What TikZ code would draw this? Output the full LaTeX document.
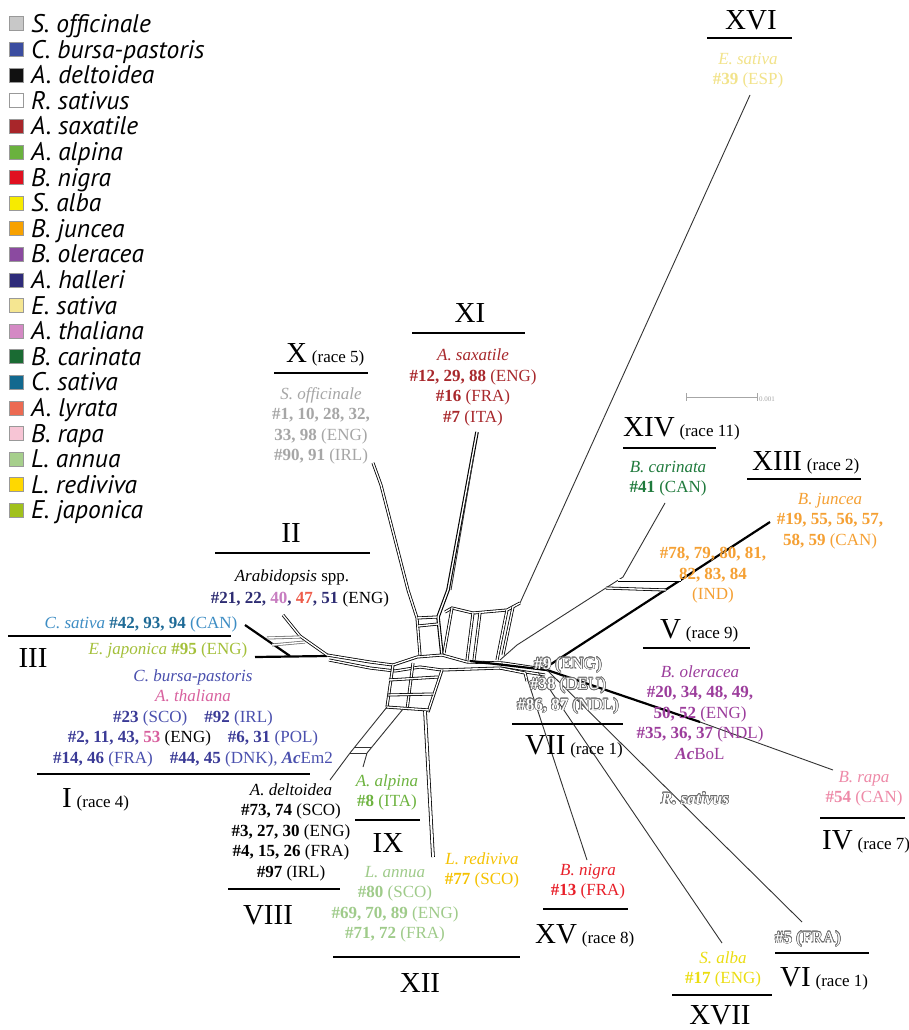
\documentclass[tikz,border=0pt]{standalone}
\usepackage{fontspec}
\setmainfont{Liberation Serif}
\newfontfamily\legfont{PT Sans}
\usepackage[copies]{contour}
\contourlength{0.55pt}
\contournumber{16}
% legend fills
\definecolor{gOff}{HTML}{C8C8C8}
\definecolor{gBur}{HTML}{3B4DA0}
\definecolor{gDel}{HTML}{111111}
\definecolor{gSax}{HTML}{A8262A}
\definecolor{gAlp}{HTML}{6AB23E}
\definecolor{gNig}{HTML}{E01020}
\definecolor{gAlb}{HTML}{F7EB00}
\definecolor{gJun}{HTML}{F7A100}
\definecolor{gOle}{HTML}{8B4AA0}
\definecolor{gHal}{HTML}{2E2B7A}
\definecolor{gEsa}{HTML}{F5E691}
\definecolor{gTha}{HTML}{D489C4}
\definecolor{gCar}{HTML}{1A6B33}
\definecolor{gCsa}{HTML}{12698F}
\definecolor{gLyr}{HTML}{EC6A52}
\definecolor{gRap}{HTML}{F7C5D5}
\definecolor{gAnn}{HTML}{A6CF8C}
\definecolor{gRed}{HTML}{FFD800}
\definecolor{gEja}{HTML}{A1C11C}
% label text colours
\definecolor{cOff}{HTML}{A6A6A6}
\definecolor{cSax}{HTML}{A8282C}
\definecolor{cCar}{HTML}{1F7A3C}
\definecolor{cJun}{HTML}{F5A033}
\definecolor{cOle}{HTML}{9C3D9C}
\definecolor{cRap}{HTML}{EE8AA8}
\definecolor{cNig}{HTML}{E8202A}
\definecolor{cAlb}{HTML}{EBDD10}
\definecolor{cEsa}{HTML}{F2E38A}
\definecolor{cRed}{HTML}{F5C200}
\definecolor{cAnn}{HTML}{9FCB8A}
\definecolor{cAlp}{HTML}{6DB33F}
\definecolor{cCsaI}{HTML}{3D8DC4}
\definecolor{cCsaN}{HTML}{1E6A96}
\definecolor{cEja}{HTML}{A4C03A}
\definecolor{cBur}{HTML}{4A50AE}
\definecolor{cBurN}{HTML}{3A3A96}
\definecolor{cTha}{HTML}{D8609E}
\definecolor{cNavy}{HTML}{2D2C72}
\definecolor{cLil}{HTML}{C77CC0}
\definecolor{cLyr}{HTML}{EE5C4A}
\definecolor{olgray}{HTML}{6E6E6E}
\newcommand\lsize{\fontsize{17}{20.5}\selectfont}
\newcommand\olt[1]{\textcolor{white}{\contour{olgray}{#1}}}
\tikzset{
  lab/.style={font=\lsize, align=center, inner sep=0pt},
  rom/.style={font=\fontsize{29}{30}\selectfont, inner sep=0pt},
  ul/.style={line width=1.6pt, black},
  net/.style={draw=black, line width=0.8pt, double=white, double distance=1.4pt},
  thk/.style={line width=2.2pt, black},
  thn/.style={line width=0.9pt, black!80},
  sq/.style={draw=gray!80, line width=1pt, minimum size=14pt, inner sep=0pt},
  leg/.style={font=\legfont\itshape\fontsize{25.5}{26}\selectfont, inner sep=0pt}
}
\begin{document}
\begin{tikzpicture}[x=1pt,y=-1pt]
\fill[white] (0,0) rectangle (909,1030);
\useasboundingbox (0,0) rectangle (909,1030);

% ---------- legend ----------
\foreach \n/\c [count=\i from 0] in {S. officinale/gOff, C. bursa-pastoris/gBur, A. deltoidea/gDel, R. sativus/white, A. saxatile/gSax, A. alpina/gAlp, B. nigra/gNig, S. alba/gAlb, B. juncea/gJun, B. oleracea/gOle, A. halleri/gHal, E. sativa/gEsa, A. thaliana/gTha, B. carinata/gCar, C. sativa/gCsa, A. lyrata/gLyr, B. rapa/gRap, L. annua/gAnn, L. rediviva/gRed, E. japonica/gEja}{
  \node[sq, fill=\c] (sq\i) at (16,{24+25.6*\i}) {};
  \node[leg, anchor=base west] (lg\i) at (31,{32.5+25.6*\i}) {\n};
}

% ---------- tip coordinates ----------
\coordinate (hubL) at (393,665);
\coordinate (tCsa) at (245,625);
\coordinate (tEja) at (255,657);
\coordinate (tAra) at (283,615);
\coordinate (tOff) at (373,463);
\coordinate (tSax) at (477,432);
\coordinate (tEsa) at (750,95);
\coordinate (tCar) at (665,503);
\coordinate (tJun) at (770,522);
\coordinate (tRap) at (833,770);
\coordinate (tNig) at (587,860);
\coordinate (tAlb) at (722,943);
\coordinate (t5) at (802,922);
\coordinate (tDel) at (330,780);
\coordinate (tAlp) at (363,767);
\coordinate (tRed) at (433,857);

% ---------- network ----------
% left arm
\draw[net] (hubL) -- (370,662) -- (327,655);
\draw[net] (395,671) -- (370,668) -- (329,660);
\draw[thk] (tCsa) -- (290,656);
\draw[thk] (tEja) -- (327,656);
\draw[net] (tAra) -- (300,636) -- (327,655);
\draw[net, draw=black!55] (267,638) -- (300,637);
\draw[net, draw=black!55] (272,645) -- (305,642);
% upper branches
\draw[net] (420,655) -- (417,618) -- (408,590) -- (381,485) -- (tOff);
\draw[net, line width=1.1pt] (442,655) -- (438,617) -- (448,590) -- (tSax);
\draw[thn] (451,590) -- (474,455);
% central boxes
\draw[net] (417,618) -- (437,617);
\draw[net] (418,626) -- (438,624);
\draw[net] (445,612) -- (452,608) -- (473,613) -- (507,610) -- (520,603);
\draw[net] (452,608) -- (444,653);
\draw[net] (473,613) -- (467,660);
\draw[net] (480,613) -- (474,660);
\draw[net] (507,610) -- (497,660);
\draw[net] (513,607) -- (503,655);
\draw[net] (hubL) -- (417,657) -- (442,655) -- (467,662) -- (503,663) -- (550,670);
\draw[net] (395,671) -- (420,667) -- (442,670) -- (500,668) -- (545,675);
\draw[net] (500,668) -- (525,673) -- (527,681);
% lower-left boxes
\draw[net] (hubL) -- (387,707);
\draw[net] (413,663) -- (407,710);
\draw[net] (442,670) -- (428,712);
\draw[net] (389,680) -- (438,677);
\draw[net] (388,695) -- (433,694);
\draw[net] (386,707) -- (429,710);
\draw[thn] (387,707) -- (350,753) -- (tDel);
\draw[thn] (403,709) -- (367,753) -- (tAlp);
\draw[thn] (350,753) -- (367,753);
\draw[thn] (354,747) -- (371,747);
\draw[net, double distance=2pt] (425,711) -- (tRed);
% right branches
\draw[thn] (520,603) -- (tEsa);
\draw[thn] (500,660) -- (517,645) -- (623,577) -- (tCar);
\draw[thk] (545,668) -- (tJun);
\draw[net] (618,580) -- (681,580);
\draw[net] (606,588) -- (666,590);
\draw[thk] (470,661) -- (547,670) -- (700,722);
\draw[thn] (700,722) -- (tRap);
\draw[thn] (527,678) -- (tNig);
\draw[thn] (538,672) -- (tAlb);
\draw[thn] (547,670) -- (t5);

% scale bar
\draw[gray!70, line width=1pt] (686,397) -- (757,397);
\draw[gray!70, line width=0.8pt] (686,393) -- (686,401);
\draw[gray!70, line width=0.8pt] (757,393) -- (757,401);
\node[inner sep=0pt, anchor=west, text=gray!70, font=\fontsize{7}{8}\selectfont] (sbar) at (759,399) {0.001};

% ---------- labels ----------
% XVI
\node[rom, anchor=base] (r16) at (751,29.5) {XVI};
\draw[ul] (707,38) -- (792,38);
\node[lab, anchor=north, text=cEsa] (l16) at (748,53) {\textit{E. sativa}\\\textbf{\#39} (ESP)};
% XI
\node[rom, anchor=base] (r11) at (470,322.5) {XI};
\draw[ul] (412,333) -- (525,333);
\node[lab, anchor=north, text=cSax] (l11) at (473,349) {\textit{A. saxatile}\\\textbf{\#12, 29, 88} (ENG)\\\textbf{\#16} (FRA)\\\textbf{\#7} (ITA)};
% X
\node[rom, anchor=base west] (r10) at (286,362.5) {X\,{\lsize(race 5)}};
\draw[ul] (274,373) -- (368,373);
\node[lab, anchor=north, text=cOff] (l10) at (321,387) {\textit{S. officinale}\\\textbf{\#1, 10, 28, 32,}\\\textbf{33, 98} (ENG)\\\textbf{\#90, 91} (IRL)};
% II
\node[rom, anchor=base] (r2) at (291,542.5) {II};
\draw[ul] (215,553) -- (370,553);
\node[lab, anchor=base] (l2a) at (292,581) {\textit{Arabidopsis} spp.};
\node[lab, anchor=base] (l2b) at (300,603) {\textbf{\textcolor{cNavy}{\#21, 22,} \textcolor{cLil}{40}\textcolor{cNavy}{,} \textcolor{cLyr}{47}\textcolor{cNavy}{, 51}} (ENG)};
% III
\node[lab, anchor=base] (l3a) at (141,628) {\textcolor{cCsaI}{\textit{C. sativa}} \textcolor{cCsaN}{\textbf{\#42, 93, 94}} \textcolor{cCsaI}{(CAN)}};
\draw[ul] (8,636) -- (231,636);
\node[rom, anchor=base] (r3) at (33,667.5) {III};
\node[lab, anchor=base, text=cEja] (l3b) at (168,654) {\textit{E. japonica} \textbf{\#95} (ENG)};
% I
\node[lab, anchor=north, text=cBur] (l1) at (193,669) {\textit{C. bursa-pastoris}\\\textcolor{cTha}{\textit{A. thaliana}}\\\textbf{\textcolor{cBurN}{\#23}} (SCO)\quad\textbf{\textcolor{cBurN}{\#92}} (IRL)\\\textbf{\textcolor{cBurN}{\#2, 11, 43,} \textcolor{cTha}{53}} \textcolor{black}{(ENG)}\quad\textbf{\textcolor{cBurN}{\#6, 31}} (POL)\\\textbf{\textcolor{cBurN}{\#14, 46}} (FRA)\quad\textbf{\textcolor{cBurN}{\#44, 45}} (DNK), \textbf{\textit{Ac}}Em2};
\draw[ul] (37,774) -- (310,774);
\node[rom, anchor=base west] (r1) at (62,807.5) {I\,{\lsize(race 4)}};
% VIII
\node[lab, anchor=north] (l8) at (291,783) {\textit{A. deltoidea}\\\textbf{\#73, 74} (SCO)\\\textbf{\#3, 27, 30} (ENG)\\\textbf{\#4, 15, 26} (FRA)\\\textbf{\#97} (IRL)};
\draw[ul] (228,889) -- (340,889);
\node[rom, anchor=base] (r8) at (268,924.5) {VIII};
% IX
\node[lab, anchor=north, text=cAlp] (l9) at (387,774) {\textit{A. alpina}\\\textbf{\#8} (ITA)};
\draw[ul] (355,820) -- (420,820);
\node[rom, anchor=base] (r9) at (388,852.5) {IX};
% XII
\node[lab, anchor=north, text=cAnn] (l12) at (395,866) {\textit{L. annua}\\\textbf{\#80} (SCO)\\\textbf{\#69, 70, 89} (ENG)\\\textbf{\#71, 72} (FRA)};
\draw[ul] (333,957) -- (520,957);
\node[rom, anchor=base] (r12) at (420,992.5) {XII};
% L. rediviva
\node[lab, anchor=north, text=cRed] (lred) at (482,852) {\textit{L. rediviva}\\\textbf{\#77} (SCO)};
% XV
\node[lab, anchor=north, text=cNig] (l15) at (588,864) {\textit{B. nigra}\\\textbf{\#13} (FRA)};
\draw[ul] (543,909) -- (628,909);
\node[rom, anchor=base west] (r15) at (535,943) {XV\,{\lsize(race 8)}};
% XVII
\node[lab, anchor=north, text=cAlb] (l17) at (723,951) {\textit{S. alba}\\\textbf{\#17} (ENG)};
\draw[ul] (672,995) -- (772,995);
\node[rom, anchor=base] (r17) at (720,1024.5) {XVII};
% VI
\node[lab, anchor=base] (l6) at (808,943) {\olt{\textbf{\#5} (FRA)}};
\draw[ul] (775,953) -- (869,953);
\node[rom, anchor=base west] (r6) at (780,986.5) {VI\,{\lsize(race 1)}};
% IV
\node[lab, anchor=north, text=cRap] (l4) at (864,771) {\textit{B. rapa}\\\textbf{\#54} (CAN)};
\draw[ul] (820,818) -- (905,818);
\node[rom, anchor=base west] (r4) at (822,849.5) {IV\,{\lsize(race 7)}};
% R. sativus
\node[lab, anchor=base] (lrs) at (695,804) {\olt{\textbf{\textit{R. sativus}}}};
% VII
\node[lab, anchor=north] (l7) at (568,657) {\olt{\textbf{\#9} (ENG)}\\\olt{\textbf{\#38} (DEU)}\\\olt{\textbf{\#86, 87} (NDL)}};
\draw[ul] (512,724) -- (623,724);
\node[rom, anchor=base west] (r7) at (525,754.5) {VII\,{\lsize(race 1)}};
% V
\node[rom, anchor=base west] (r5) at (660,638.5) {V\,{\lsize(race 9)}};
\draw[ul] (643,648) -- (750,648);
\node[lab, anchor=north, text=cOle] (l5) at (700,665) {\textit{B. oleracea}\\\textbf{\#20, 34, 48, 49,}\\\textbf{50, 52} (ENG)\\\textbf{\#35, 36, 37} (NDL)\\\textbf{\textit{Ac}}BoL};
% IND
\node[lab, anchor=north, text=cJun] (lind) at (713,547) {\textbf{\#78, 79, 80, 81,}\\\textbf{82, 83, 84}\\(IND)};
% XIII
\node[rom, anchor=base west] (r13) at (752,470.5) {XIII\,{\lsize(race 2)}};
\draw[ul] (747,479) -- (861,479);
\node[lab, anchor=north, text=cJun] (l13) at (830,493) {\textit{B. juncea}\\\textbf{\#19, 55, 56, 57,}\\\textbf{58, 59} (CAN)};
% XIV
\node[rom, anchor=base west] (r14) at (623,436.5) {XIV\,{\lsize(race 11)}};
\draw[ul] (623,448) -- (716,448);
\node[lab, anchor=north, text=cCar] (l14) at (668,461) {\textit{B. carinata}\\\textbf{\#41} (CAN)};
\end{tikzpicture}
\end{document}
